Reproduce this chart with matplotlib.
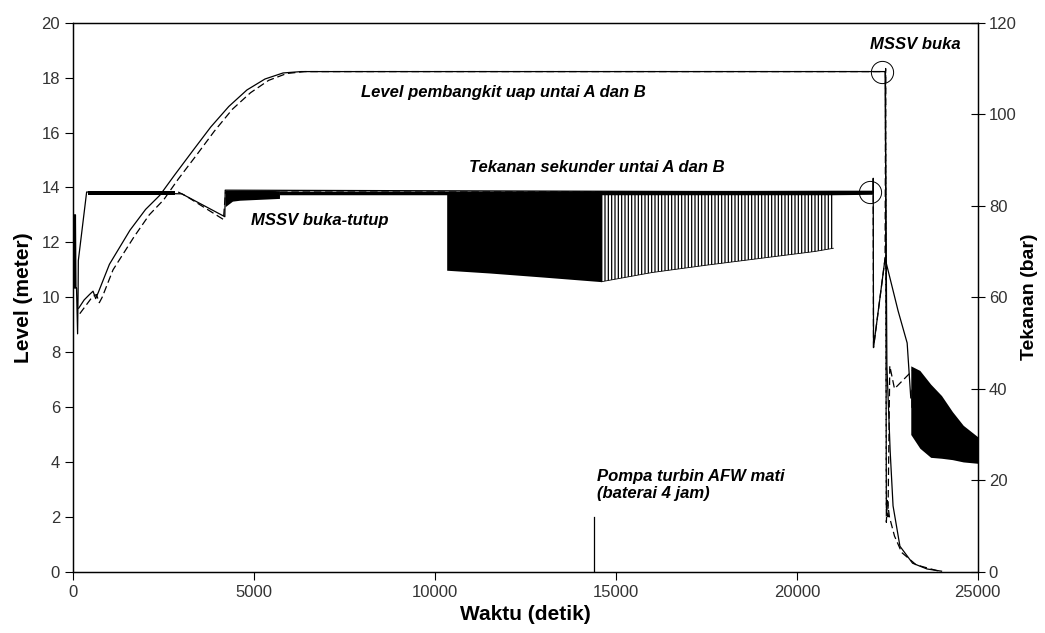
import matplotlib
matplotlib.use("Agg")
import matplotlib.pyplot as plt

plt.rcParams['font.family'] = ['Liberation Sans', 'DejaVu Sans']

# level (meter), steam generator A (solid) and B (dashed)
lvl_a_t = [150, 300, 450, 547, 620, 700, 1000, 1567, 2000, 2397, 2800, 3317, 3800, 4300, 4800, 5300,
           5800, 6300, 22440, 22470, 22490, 22580, 22660, 22850, 23200, 23600, 24000]
lvl_a = [9.6, 9.9, 10.1, 10.22, 9.95, 10.2, 11.2, 12.44, 13.2, 13.72, 14.45, 15.36, 16.2, 16.95, 17.55, 17.95,
         18.17, 18.22, 18.22, 12.0, 7.5, 4.4, 2.4, 0.93, 0.31, 0.1, 0.02]
lvl_b_t = [180, 350, 520, 640, 720, 800, 1100, 1680, 2100, 2500, 2900, 3420, 3900, 4400, 4900, 5400,
           5900, 6400, 22450, 22475, 22500, 22560, 22700, 22900, 23300, 23900]
lvl_b = [9.4, 9.7, 10.0, 10.1, 9.8, 10.0, 11.0, 12.2, 13.0, 13.55, 14.3, 15.2, 16.05, 16.85, 17.45, 17.9,
         18.15, 18.22, 18.22, 1.8, 2.6, 2.0, 1.3, 0.7, 0.25, 0.03]

# secondary pressure (bar), loop A (solid) and B (dashed)
prs_a_t = [0, 15, 30, 45, 60, 75, 90, 120, 135, 140, 370, 3000, 4190, 4200, 22110, 22112, 22120,
           22440, 22800, 23050, 23150]
prs_a = [78, 62, 78, 62, 78, 62, 62, 52, 62, 68, 83, 82.6, 77.6, 83.4, 83, 86, 49,
         68.5, 57, 50, 38]
prs_b_t = [2900, 3100, 4150, 4210, 22110, 22120, 22440, 22455, 22475, 22520, 22570, 22700, 23200]
prs_b = [83, 82.2, 77.0, 83, 83, 49, 68.5, 110, 14, 12, 45, 40, 44]

# oscillation envelopes of the pressure (bar)
band_t = [400, 2800]
band_hi = [83.2, 83.2]
band_lo = [82.4, 82.4]
mssv_t = [4200, 4400, 4600, 5700]
mssv_hi = [83.4, 83.4, 83.4, 83.3]
mssv_lo = [79.8, 81.0, 81.2, 81.6]
flat_t = [5700, 10322, 21009, 22110]
flat_hi = [83.2, 83.2, 83.4, 83.4]
flat_lo = [82.4, 82.4, 82.4, 82.5]
dense_t = [10322, 11500, 13000, 14606]
dense_hi = [83, 83, 83, 83]
dense_lo = [65.9, 65.3, 64.4, 63.4]
sparse_t = [14606, 16000, 17500, 19000, 20500, 21009]
sparse_hi = [83, 83, 83, 83, 83, 83]
sparse_lo = [63.4, 65.4, 67.0, 68.5, 70.0, 70.7]
tail_t = [23150, 23400, 23700, 24000, 24300, 24600, 25000]
tail_a_hi = [45, 44, 41, 38.5, 35, 32, 29.5]
tail_a_lo = [36, 34, 31, 29.5, 28.5, 27, 25.5]
tail_b_hi = [40, 37, 33, 31, 29, 28, 27]
tail_b_lo = [30, 27, 25, 24.8, 24.5, 24, 23.7]

fig = plt.figure(figsize=(10.45, 6.33), dpi=100)
ax = fig.add_axes([0.0701, 0.0968, 0.8655, 0.8673])
ax2 = ax.twinx()

ax.plot(lvl_a_t, lvl_a, color="black", lw=0.9)
ax.plot(lvl_b_t, lvl_b, color="black", lw=0.9, ls=(0, (6, 3)))

ax2.plot(prs_a_t, prs_a, color="black", lw=0.9)
ax2.plot(prs_b_t, prs_b, color="black", lw=0.9, ls=(0, (6, 3)))
ax2.fill_between(band_t, band_lo, band_hi, color="black", lw=0)
ax2.fill_between(mssv_t, mssv_lo, mssv_hi, color="black", lw=0)
ax2.fill_between(flat_t, flat_lo, flat_hi, color="black", lw=0)
ax2.fill_between(dense_t, dense_lo, dense_hi, color="black", lw=0)
plt.rcParams['hatch.linewidth'] = 0.9
ax2.fill_between(sparse_t, sparse_lo, sparse_hi, facecolor="none", edgecolor="black",
                 hatch="|||||", lw=0)
ax2.plot(sparse_t, sparse_lo, color="black", lw=0.6)
ax2.fill_between(tail_t, tail_a_lo, tail_a_hi, color="black", lw=0)
ax2.fill_between(tail_t, tail_b_lo, tail_b_hi, color="black", lw=0)

# circles marking the MSSV events
ax2.plot([22028], [83], "o", mfc="none", mec="black", ms=16, mew=0.7)
ax.plot([22353], [18.2], "o", mfc="none", mec="black", ms=16, mew=0.7)

# AFW pump trip marker
ax.plot([14393, 14393], [0, 2.0], color="black", lw=0.9)

tkw = dict(fontsize=12, fontweight="bold", style="italic")
ax.text(11878, 17.44, "Level pembangkit uap untai A dan B", ha="center", va="center", **tkw)
ax.text(14477, 14.71, "Tekanan sekunder untai A dan B", ha="center", va="center", **tkw)
ax.text(6820, 12.81, "MSSV buka-tutup", ha="center", va="center", **tkw)
ax.text(23265, 19.19, "MSSV buka", ha="center", va="center", **tkw)
ax.text(14477, 3.15, "Pompa turbin AFW mati\n(baterai 4 jam)", ha="left", va="center",
        linespacing=1.15, **tkw)

ax.set_xlim(0, 25000)
ax.set_ylim(0, 20)
ax2.set_ylim(0, 120)
ax.set_xticks([0, 5000, 10000, 15000, 20000, 25000])
ax.set_yticks(range(0, 21, 2))
ax2.set_yticks(range(0, 121, 20))

ax.set_xlabel("Waktu (detik)", fontsize=15, fontweight="bold", labelpad=4)
ax.set_ylabel("Level (meter)", fontsize=15, fontweight="bold", labelpad=6)
ax2.set_ylabel("Tekanan (bar)", fontsize=14, fontweight="bold", labelpad=3)

ax.tick_params(axis="both", direction="out", length=6, width=0.8, labelsize=12, labelcolor="#333333")
ax2.tick_params(axis="y", direction="inout", length=10, width=0.8, labelsize=12, labelcolor="#333333",
                pad=3)
for a in (ax, ax2):
    for s in a.spines.values():
        s.set_linewidth(0.9)

fig.savefig("out.png", dpi=100)
